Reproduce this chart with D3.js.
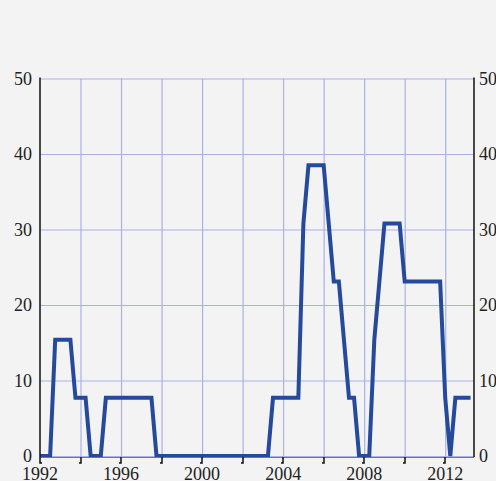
<!DOCTYPE html>
<meta charset="utf-8">
<head>
<style>
  body { margin: 0; background: #f3f3f3; }
  svg { display: block; }
  .lbl { font: 18px "Liberation Serif", "Times New Roman", serif; fill: #222; }
</style>
</head>
<body>
<script src="https://d3js.org/d3.v7.min.js"></script>
<script>

// quarterly share (%), 1992 Q1 .. 2013 Q2
var startYear = 1992;
var values = [
  0, 0, 0, 15.4,          // 1992
  15.4, 15.4, 15.4, 7.7,  // 1993
  7.7, 7.7, 0, 0,         // 1994
  0, 7.7, 7.7, 7.7,       // 1995
  7.7, 7.7, 7.7, 7.7,     // 1996
  7.7, 7.7, 7.7, 0,       // 1997
  0, 0, 0, 0,             // 1998
  0, 0, 0, 0,             // 1999
  0, 0, 0, 0,             // 2000
  0, 0, 0, 0,             // 2001
  0, 0, 0, 0,             // 2002
  0, 0, 7.7, 7.7,         // 2003
  7.7, 7.7, 7.7, 7.7,     // 2004
  30.8, 38.5, 38.5, 38.5, // 2005
  38.5, 30.8, 23.1, 23.1, // 2006
  15.4, 7.7, 7.7, 0,      // 2007
  0, 0, 15.4, 23.1,       // 2008
  30.8, 30.8, 30.8, 30.8, // 2009
  23.1, 23.1, 23.1, 23.1, // 2010
  23.1, 23.1, 23.1, 23.1, // 2011
  7.7, 0, 7.7, 7.7,       // 2012
  7.7, 7.7                // 2013
];
var xTicks = [1992, 1994, 1996, 1998, 2000, 2002, 2004, 2006, 2008, 2010, 2012];
var xLabels = [1992, 1996, 2000, 2004, 2008, 2012];
var yTicks = [0, 10, 20, 30, 40, 50];

var data = values.map(function (v, i) { return {t: startYear + i / 4, v: v}; });

var width = 496, height = 481;
var m = {left: 40, right: 474, top: 78.5, bottom: 456};

var x = d3.scaleLinear().domain([1992, 2013.42]).range([m.left, m.right]);
var y = d3.scaleLinear().domain([0, 50]).range([m.bottom, m.top]);

var svg = d3.select("body").append("svg")
    .attr("width", width)
    .attr("height", height);

// grid
svg.append("g")
    .attr("transform", "translate(0," + m.bottom + ")")
    .call(d3.axisBottom(x).tickValues(xTicks.slice(1)).tickSize(-(m.bottom - m.top)).tickFormat(""))
    .call(function (g) {
      g.select(".domain").remove();
      g.selectAll("line").attr("stroke", "#aab1e6").attr("stroke-width", 1.2);
    });

svg.append("g")
    .attr("transform", "translate(" + m.left + ",0)")
    .call(d3.axisLeft(y).tickValues(yTicks).tickSize(-(m.right - m.left)).tickFormat(""))
    .call(function (g) {
      g.select(".domain").remove();
      g.selectAll("line").attr("stroke", "#aab1e6").attr("stroke-width", 1.2);
    });

// series
var line = d3.line()
    .x(function (d) { return x(d.t); })
    .y(function (d) { return y(d.v); });

svg.append("path")
    .datum(data)
    .attr("fill", "none")
    .attr("stroke", "#264a9b")
    .attr("stroke-width", 4)
    .attr("d", line);

// axes
svg.append("line")
    .attr("x1", m.left).attr("x2", m.left)
    .attr("y1", m.top - 1).attr("y2", m.bottom + 1)
    .attr("stroke", "#111").attr("stroke-width", 1.5);
svg.append("line")
    .attr("x1", m.right).attr("x2", m.right)
    .attr("y1", m.top - 1).attr("y2", m.bottom + 1)
    .attr("stroke", "#111").attr("stroke-width", 1.5);
svg.append("line")
    .attr("x1", m.left).attr("x2", m.right)
    .attr("y1", m.bottom + 1.5).attr("y2", m.bottom + 1.5)
    .attr("stroke", "#777").attr("stroke-width", 1);

svg.append("g").selectAll("path")
    .data(xTicks)
    .enter().append("path")
    .attr("fill", "none")
    .attr("stroke", "#111")
    .attr("stroke-width", 1.5)
    .attr("d", function (d) {
      var px = Math.round(x(d));
      return "M" + px + "," + (m.bottom + 1) + "V" + (m.bottom + 7) + "h" + (d === 1992 ? 2 : -2);
    });

svg.append("g").selectAll("text")
    .data(xLabels)
    .enter().append("text")
    .attr("class", "lbl")
    .attr("x", function (d) { return x(d); })
    .attr("y", 480)
    .attr("text-anchor", "middle")
    .text(function (d) { return d; });

svg.append("g").selectAll("text")
    .data(yTicks)
    .enter().append("text")
    .attr("class", "lbl")
    .attr("x", 32)
    .attr("y", function (d) { return y(d); })
    .attr("dy", "0.35em")
    .attr("text-anchor", "end")
    .text(function (d) { return d; });

svg.append("g").selectAll("text")
    .data(yTicks)
    .enter().append("text")
    .attr("class", "lbl")
    .attr("x", 479)
    .attr("y", function (d) { return y(d); })
    .attr("dy", "0.35em")
    .attr("text-anchor", "start")
    .text(function (d) { return d; });

</script>
</body>
